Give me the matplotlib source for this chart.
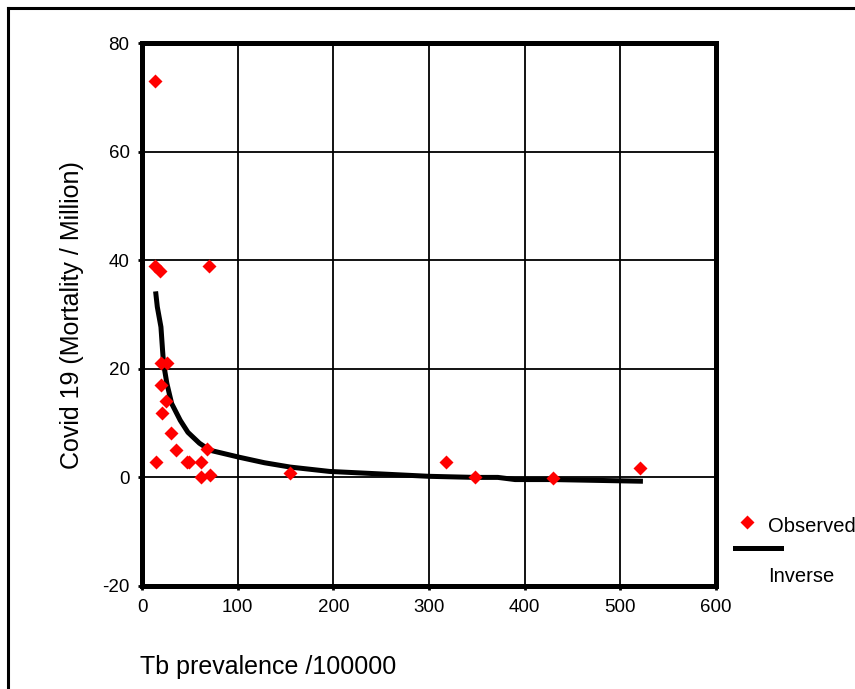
import matplotlib.pyplot as plt
from matplotlib.lines import Line2D

plt.rcParams['font.family'] = ['Liberation Sans', 'DejaVu Sans']
plt.rcParams['axes.unicode_minus'] = False

# observed points (Tb prevalence per 100000 vs covid deaths per million)
tb_prev = [14, 14, 19, 70, 19.5, 26.5, 19.5, 25, 21, 30.5, 36, 68, 15, 47, 49, 62, 62, 71,
           155, 318, 348, 430, 521]
mortality = [73, 39, 38, 39, 21, 21, 17.1, 14.1, 11.9, 8.2, 5.1, 5.2, 2.9, 2.9, 2.9, 2.9, 0.1, 0.5,
             0.8, 2.8, 0.1, -0.2, 1.8]

# inverse model curve as drawn in the picture
fit_x = [14.5, 16, 19.8, 21.5, 22.5, 26, 31, 40, 48, 60, 71, 102, 128, 155, 196, 300, 348, 372, 390,
         430, 521]
fit_y = [33.8, 31.4, 27.7, 23.4, 21.0, 17.3, 13.6, 10.5, 8.3, 6.3, 5.0, 3.7, 2.7, 1.9, 1.1, 0.2, 0.0,
         0.0, -0.4, -0.4, -0.7]

xticks = [0, 100, 200, 300, 400, 500, 600]
yticks = [-20, 0, 20, 40, 60, 80]

fig = plt.figure(figsize=(8.55, 6.89), dpi=100)
ax = fig.add_axes([142/855, 1 - 586/689, (716 - 142)/855, (586 - 43)/689])

ax.plot(fit_x, fit_y, color='black', lw=3.6, zorder=3)
ax.plot(tb_prev, mortality, 'D', color='red', ms=7, mec='none', zorder=4)

ax.set_xlim(0, 600)
ax.set_ylim(-20, 80)
ax.set_xticks(xticks)
ax.set_yticks(yticks)
ax.grid(True, color='black', lw=1.3)
ax.set_axisbelow(True)
for s in ax.spines.values():
    s.set_linewidth(3.6)
ax.tick_params(length=3, width=2, labelsize=13.5, pad=6)

fig.text(72/855, 1 - 315/689, 'Covid 19 (Mortality / Million)', rotation=90,
         ha='center', va='center', fontsize=18)
fig.text(140/855, 1 - 667/689, 'Tb prevalence /100000', ha='left', va='center', fontsize=18)

# legend outside the plot
fig.add_artist(Line2D([747/855], [1 - 522/689], marker='D', color='red', ms=7, mec='none', ls='none'))
fig.text(768/855, 1 - 526/689, 'Observed', ha='left', va='center', fontsize=14.5)
fig.add_artist(Line2D([735/855, 781/855], [1 - 548/689] * 2, color='black', lw=3.6))
fig.text(768/855, 1 - 576/689, 'Inverse', ha='left', va='center', fontsize=14.5)

# frame around the figure (only left and top visible)
fig.add_artist(Line2D([7.5/855, 7.5/855], [0, 1 - 7.5/689], color='black', lw=2.2))
fig.add_artist(Line2D([7.5/855, 1], [1 - 7.5/689] * 2, color='black', lw=2.2))

fig.savefig('out.png', dpi=100)
